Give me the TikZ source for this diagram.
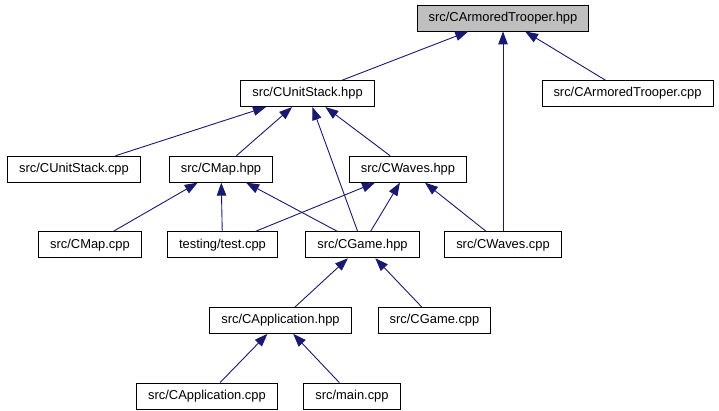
\documentclass[tikz,border=0pt]{standalone}
\usepackage{fontspec}
\setmainfont{Liberation Sans}
\usepackage{tikz}
\usetikzlibrary{
  positioning,
  arrows.meta
}
\definecolor{rootbg}{RGB}{191,191,191}
\definecolor{edgecolor}{RGB}{25,25,112}
\tikzset{
  filebox/.style={
    draw=black, fill=white, line width=0.9pt,
    minimum height=26pt, inner xsep=11.5pt, inner ysep=2pt,
    font=\fontsize{12.9}{15}\selectfont, align=center
  },
  rootbox/.style={
    filebox, fill=rootbg
  },
  inclarrow/.style={
    -{Triangle[length=13pt, width=9.5pt]}, line width=0.9pt, draw=edgecolor
  }
}

\begin{document}
\begin{tikzpicture}[
    x=1pt, y=1pt,
    node distance=48.7pt
  ]
    \useasboundingbox (0,0) rectangle (719,-411);

    \node[rootbox] (trooperh) at (503,-18) {src/CArmoredTrooper.hpp};

    \node[filebox, below=of trooperh, xshift=-195.5pt] (stackh) {src/CUnitStack.hpp};
    \node[filebox, below=of trooperh, xshift=124.5pt] (trooperc) {src/CArmoredTrooper.cpp};

    \node[filebox, below=of stackh, xshift=-233.5pt] (stackc) {src/CUnitStack.cpp};
    \node[filebox, below=of stackh, xshift=-86.5pt] (maph) {src/CMap.hpp};
    \node[filebox, below=of stackh, xshift=100.5pt] (wavesh) {src/CWaves.hpp};

    \node[filebox, below=of maph, xshift=-131pt] (mapc) {src/CMap.cpp};
    \node[filebox, below=of maph, xshift=1.5pt] (testc) {testing/test.cpp};
    \node[filebox, below=of maph, xshift=141.5pt] (gameh) {src/CGame.hpp};
    \node[filebox, below=of maph, xshift=282pt] (wavesc) {src/CWaves.cpp};

    \node[filebox, below=of gameh, xshift=-82pt] (apph) {src/CApplication.hpp};
    \node[filebox, below=of gameh, xshift=72pt] (gamec) {src/CGame.cpp};

    \node[filebox, below=of apph, xshift=-73.5pt] (appc) {src/CApplication.cpp};
    \node[filebox, below=of apph, xshift=71.5pt] (mainc) {src/main.cpp};

    \draw[inclarrow] (stackh) -- (trooperh);
    \draw[inclarrow] (wavesc) -- (trooperh);
    \draw[inclarrow] (trooperc) -- (trooperh);

    \draw[inclarrow] (stackc) -- (stackh);
    \draw[inclarrow] (maph) -- (stackh);
    \draw[inclarrow] (gameh) -- (stackh);
    \draw[inclarrow] (wavesh) -- (stackh);

    \draw[inclarrow] (mapc) -- (maph);
    \draw[inclarrow] (testc) -- (maph);
    \draw[inclarrow] (gameh) -- (maph);

    \draw[inclarrow] (testc) -- (wavesh);
    \draw[inclarrow] (gameh) -- (wavesh);
    \draw[inclarrow] (wavesc) -- (wavesh);

    \draw[inclarrow] (apph) -- (gameh);
    \draw[inclarrow] (gamec) -- (gameh);

    \draw[inclarrow] (appc) -- (apph);
    \draw[inclarrow] (mainc) -- (apph);

  \end{tikzpicture}
\end{document}
